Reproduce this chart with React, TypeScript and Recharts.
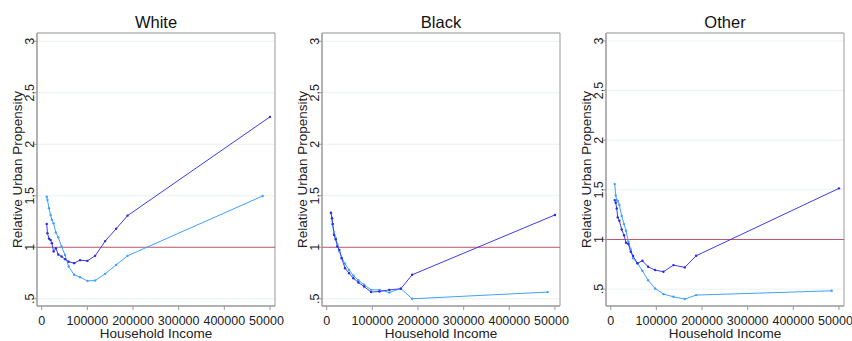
import React from "react";
import {
  LineChart,
  Line,
  XAxis,
  YAxis,
  CartesianGrid,
  ReferenceLine,
  ReferenceArea,
} from "recharts";

// household income (x) per panel, last light point sits a bit left of the dark one
const whiteIncome = [11000, 12600, 16000, 19500, 22300, 26000, 31000, 36200, 43500, 51000, 59000, 71000, 84000, 100000, 117000, 139000, 163000, 188000, 500000];
const whiteDark = [1.227, 1.137, 1.084, 1.07, 1.04, 0.958, 0.99, 0.93, 0.91, 0.885, 0.86, 0.846, 0.875, 0.868, 0.917, 1.06, 1.18, 1.307, 2.266];
const whiteLight = [1.491, 1.459, 1.379, 1.314, 1.266, 1.233, 1.143, 1.098, 1.007, 0.926, 0.813, 0.733, 0.71, 0.674, 0.677, 0.742, 0.829, 0.917, 1.498];

const blackIncome = [9400, 11600, 13000, 16000, 19700, 23300, 27700, 32800, 40100, 48900, 58500, 69400, 81900, 97200, 115500, 137400, 162300, 187100, 500000];
const blackDark = [1.336, 1.282, 1.227, 1.12, 1.078, 1.007, 0.975, 0.894, 0.797, 0.749, 0.7, 0.658, 0.619, 0.565, 0.571, 0.587, 0.597, 0.733, 1.314];
const blackLight = [1.33, 1.28, 1.22, 1.15, 1.09, 1.03, 0.96, 0.9, 0.84, 0.78, 0.725, 0.68, 0.637, 0.587, 0.587, 0.561, 0.6, 0.5, 0.565];

const otherIncome = [8800, 11000, 13200, 15400, 19000, 24100, 29200, 33600, 38700, 43900, 49000, 58500, 69400, 81900, 97200, 115500, 137400, 162300, 187100, 500000];
const otherDark = [1.397, 1.37, 1.313, 1.223, 1.189, 1.1, 1.043, 0.967, 0.954, 0.876, 0.833, 0.76, 0.786, 0.725, 0.692, 0.675, 0.742, 0.719, 0.836, 1.515];
const otherLight = [1.558, 1.444, 1.397, 1.387, 1.347, 1.236, 1.155, 1.088, 0.977, 0.9, 0.81, 0.76, 0.685, 0.59, 0.507, 0.45, 0.423, 0.4, 0.44, 0.483];

const lightTopIncome = 484000;

const xTicks = [0, 100000, 200000, 300000, 400000, 500000];
const yTicks = [0.5, 1, 1.5, 2, 2.5, 3];

const DARK = "#3c3cf0";
const LIGHT = "#40a0ff";
const FONT = "'Liberation Sans', Arial, sans-serif";

const X_DOMAIN = [-10300, 511000];

const toPoints = (xs: number[], ys: number[], lastX?: number) =>
  ys.map((y, i) => ({ x: i === ys.length - 1 && lastX ? lastX : xs[i], y }));

const YTick = (props: any) => {
  const { x, y, payload } = props;
  const v = payload.value;
  const label = v === 0.5 ? ".5" : String(v);
  const tx = x + 3;
  return (
    <text
      x={tx}
      y={y}
      transform={`rotate(-90 ${tx} ${y})`}
      textAnchor="middle"
      fontSize={12.5}
      fill="#222"
      fontFamily={FONT}
    >
      {label}
    </text>
  );
};

function Panel({
  title,
  income,
  dark,
  light,
  yMin,
  left,
}: {
  title: string;
  income: number[];
  dark: number[];
  light: number[];
  yMin: number;
  left: number;
}) {
  const darkPts = toPoints(income, dark);
  const lightPts = toPoints(income, light, lightTopIncome);
  const yMax = 3.08;
  return (
    <div
      style={{
        position: "absolute",
        left,
        top: 0,
        width: 284,
        height: 341,
        overflow: "hidden",
        fontFamily: FONT,
      }}
    >
      <div
        style={{
          position: "absolute",
          top: 13,
          left: 37,
          width: 238,
          textAlign: "center",
          fontSize: 16.5,
          lineHeight: "19px",
          color: "#111",
        }}
      >
        {title}
      </div>
      <LineChart
        width={284}
        height={341}
        margin={{ top: 33, right: 9, left: 0, bottom: 0 }}
      >
        <CartesianGrid horizontal vertical={false} stroke="#e9f1f1" />
        <XAxis
          type="number"
          dataKey="x"
          domain={X_DOMAIN}
          ticks={xTicks}
          interval={0}
          height={35}
          allowDataOverflow
          tickSize={4}
          tickMargin={6}
          stroke="#999"
          tick={{ fontSize: 12.5, fill: "#222", fontFamily: FONT }}
          label={{
            value: "Household Income",
            position: "insideBottom",
            offset: 3.5,
            fontSize: 13.5,
            fill: "#222",
            fontFamily: FONT,
          }}
        />
        <YAxis
          type="number"
          domain={[yMin, yMax]}
          ticks={yTicks}
          interval={0}
          width={37}
          allowDataOverflow
          tickSize={4}
          tickMargin={2}
          stroke="#999"
          tick={<YTick />}
          label={{
            content: (p: any) => {
              const vb = p.viewBox;
              const cy = vb.y + vb.height / 2;
              return (
                <text
                  x={22}
                  y={cy}
                  transform={`rotate(-90 22 ${cy})`}
                  textAnchor="middle"
                  fontSize={13.5}
                  fill="#222"
                  fontFamily={FONT}
                >
                  Relative Urban Propensity
                </text>
              );
            },
          }}
        />
        <ReferenceArea
          x1={X_DOMAIN[0]}
          x2={X_DOMAIN[1]}
          y1={yMin}
          y2={yMax}
          fill="none"
          stroke="#999"
          strokeWidth={1}
        />
        <ReferenceLine y={1} stroke="#c0566c" strokeWidth={1} />
        <Line
          data={lightPts}
          dataKey="y"
          type="linear"
          stroke={LIGHT}
          strokeWidth={1}
          dot={{ r: 1.2, fill: LIGHT, stroke: LIGHT, strokeWidth: 0 }}
          isAnimationActive={false}
        />
        <Line
          data={darkPts}
          dataKey="y"
          type="linear"
          stroke={DARK}
          strokeWidth={1}
          dot={{ r: 1.2, fill: "#2a2ae0", stroke: DARK, strokeWidth: 0 }}
          isAnimationActive={false}
        />
      </LineChart>
    </div>
  );
}

export default function App() {
  return (
    <div
      style={{
        position: "absolute",
        left: 0,
        top: 0,
        width: 852,
        height: 341,
        background: "#fff",
        overflow: "hidden",
      }}
    >
      <Panel title="White" income={whiteIncome} dark={whiteDark} light={whiteLight} yMin={0.43} left={0} />
      <Panel title="Black" income={blackIncome} dark={blackDark} light={blackLight} yMin={0.43} left={285} />
      <Panel title="Other" income={otherIncome} dark={otherDark} light={otherLight} yMin={0.33} left={569} />
    </div>
  );
}
